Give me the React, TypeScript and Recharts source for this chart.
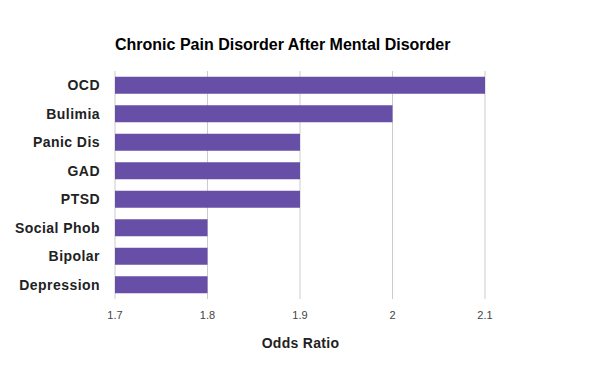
import React from "react";
import { BarChart, Bar, XAxis, YAxis, CartesianGrid } from "recharts";

const categories = ["OCD", "Bulimia", "Panic Dis", "GAD", "PTSD", "Social Phob", "Bipolar", "Depression"];
const oddsRatios = [2.1, 2.0, 1.9, 1.9, 1.9, 1.8, 1.8, 1.8];
const xTicks = [1.7, 1.8, 1.9, 2.0, 2.1];
const title = "Chronic Pain Disorder After Mental Disorder";
const xLabel = "Odds Ratio";

const data = categories.map((c, i) => ({ name: c, value: oddsRatios[i] }));

const FONT = "Arial, 'Liberation Sans', sans-serif";

export default function App() {
  return (
    <div style={{ position: "absolute", left: 0, top: 0, width: 600, height: 371, background: "#fff" }}>
      <BarChart
        width={600}
        height={371}
        data={data}
        layout="vertical"
        margin={{ top: 71, right: 115, bottom: 0, left: 0 }}
        barCategoryGap="20%"
      >
        <CartesianGrid horizontal={false} vertical={true} stroke="#cccccc" strokeDasharray="" />
        <XAxis
          type="number"
          dataKey="value"
          domain={[1.7, 2.1]}
          ticks={xTicks}
          allowDataOverflow
          axisLine={false}
          tickLine={false}
          tickSize={0}
          tickMargin={12}
          height={72}
          interval={0}
          tick={{ fill: "#444444", fontSize: 11, fontFamily: FONT }}
          tickFormatter={(v: number) => String(Math.round(v * 10) / 10)}
        />
        <YAxis
          type="category"
          dataKey="name"
          width={115}
          axisLine={false}
          tickLine={false}
          tickSize={0}
          tickMargin={15}
          interval={0}
          tick={{ fill: "#222222", fontSize: 14, fontWeight: "bold", fontFamily: FONT, letterSpacing: 0.45 }}
        />
        <Bar dataKey="value" fill="#674ea7" isAnimationActive={false} />
      </BarChart>
      <svg
        width={600}
        height={371}
        style={{ position: "absolute", left: 0, top: 0, pointerEvents: "none" }}
      >
        <text x={115} y={50} fontFamily={FONT} fontSize={16} fontWeight="bold" fill="#000000">
          {title}
        </text>
        <text
          x={300.5}
          y={348}
          textAnchor="middle"
          fontFamily={FONT}
          fontSize={14}
          fontWeight="bold"
          fill="#222222"
          letterSpacing={0.3}
        >
          {xLabel}
        </text>
      </svg>
    </div>
  );
}
